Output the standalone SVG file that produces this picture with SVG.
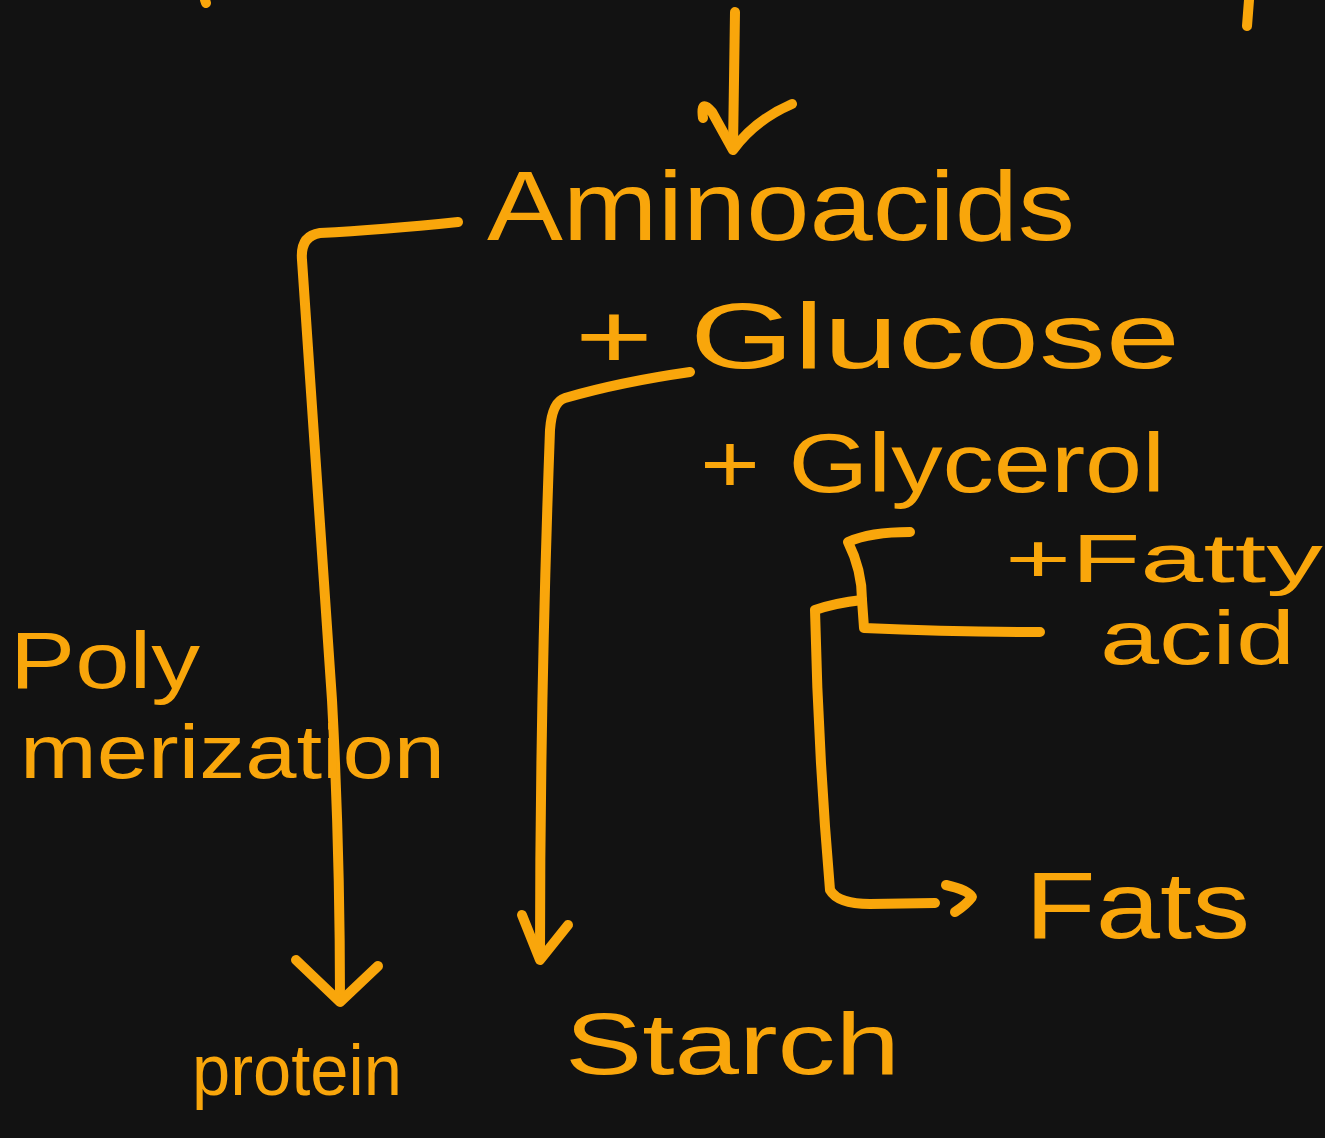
<svg xmlns="http://www.w3.org/2000/svg" width="1325" height="1138" viewBox="0 0 1325 1138">
<style>
.s{fill:none;stroke:#F9A60B;stroke-width:10;stroke-linecap:round;stroke-linejoin:round}
.t{fill:#F9A60B;font-family:"Liberation Sans","DejaVu Sans",sans-serif}
</style>
<rect width="1325" height="1138" fill="#121212"/>
<g id="connectors">
<path class="s" d="M735 12 L733 148"/>
<path class="s" d="M703 118 Q700 98 712 112 L733 150 Q755 120 792 104"/>
<path class="s" d="M1249 0 L1247 26"/>
<path class="s" d="M205 0 L206 3"/>
<path class="s" d="M458 222 Q380 230 320 233 Q300 236 302 260 Q318 500 332 700 Q340 850 340 1000"/>
<path class="s" d="M296 960 L340 1002 L378 966"/>
<path class="s" d="M690 372 Q620 382 565 398 Q552 402 550 430 Q540 700 540 955"/>
<path class="s" d="M522 915 L540 960 L568 925"/>
<path class="s" d="M910 532 Q870 532 848 542 Q862 570 862 600 L864 628 Q950 632 1040 632"/>
<path class="s" d="M862 600 Q835 603 815 610 Q818 750 830 890 Q838 904 870 904 L935 903"/>
<path class="s" d="M946 885 Q968 890 972 897 Q966 905 955 912"/>
</g>
<g id="aminoacids"><text class="t" x="487" y="240" font-size="98" textLength="588" lengthAdjust="spacingAndGlyphs">Aminoacids</text></g>
<g id="glucose"><text class="t" x="575" y="368" font-size="92" textLength="605" lengthAdjust="spacingAndGlyphs">+  Glucose</text></g>
<g id="glycerol"><text class="t" x="700" y="492" font-size="84" textLength="465" lengthAdjust="spacingAndGlyphs">+ Glycerol</text></g>
<g id="fattyacid">
<text class="t" x="1005" y="582" font-size="68" textLength="318" lengthAdjust="spacingAndGlyphs">+Fatty</text>
<text class="t" x="1100" y="664" font-size="76" textLength="195" lengthAdjust="spacingAndGlyphs">acid</text>
</g>
<g id="polymerization">
<text class="t" x="10" y="688" font-size="80" textLength="190" lengthAdjust="spacingAndGlyphs">Poly</text>
<text class="t" x="20" y="778" font-size="76" textLength="425" lengthAdjust="spacingAndGlyphs">merization</text>
</g>
<g id="protein"><text class="t" x="192" y="1095" font-size="72" textLength="210" lengthAdjust="spacingAndGlyphs">protein</text></g>
<g id="starch"><text class="t" x="565" y="1074" font-size="88" textLength="335" lengthAdjust="spacingAndGlyphs">Starch</text></g>
<g id="fats"><text class="t" x="1025" y="938" font-size="94" textLength="225" lengthAdjust="spacingAndGlyphs">Fats</text></g>
</svg>
